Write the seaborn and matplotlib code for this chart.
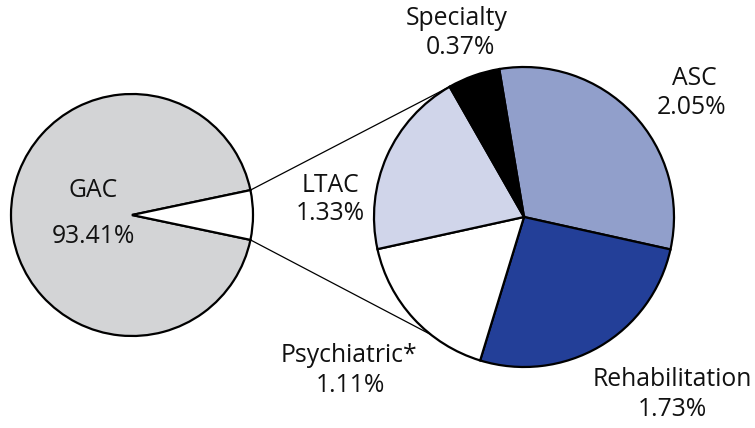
import matplotlib
matplotlib.use("Agg")
import matplotlib.pyplot as plt
import seaborn as sns
import numpy as np

sns.set_theme(style="white")
plt.rcParams['font.family'] = ['Open Sans', 'DejaVu Sans']

# Data
main_labels = ["GAC", "Other"]
main_values = [93.41, 6.59]
main_colors = ["#d3d4d6", "#ffffff"]

sub_labels = ["ASC", "Rehabilitation", "Psychiatric*", "LTAC", "Specialty"]
sub_values = [2.05, 1.73, 1.11, 1.33, 0.37]
sub_colors = ["#919fcb", "#233f98", "#ffffff", "#d0d5ea", "#000000"]

W, H = 755, 428
fig = plt.figure(figsize=(W / 100, H / 100), dpi=100)
ax = fig.add_axes([0, 0, 1, 1])

# Left pie
c1 = (132, H - 215)
r1 = 121
other_share = main_values[1] / sum(main_values) * 360
w1, _ = ax.pie(main_values, colors=main_colors, center=c1, radius=r1,
               startangle=other_share / 2, counterclock=True,
               wedgeprops=dict(edgecolor="black", linewidth=1.6), frame=True)

# Right pie
c2 = (524, H - 217)
r2 = 150
w2, _ = ax.pie(sub_values, colors=sub_colors, center=c2, radius=r2,
               startangle=99.5, counterclock=False,
               wedgeprops=dict(edgecolor="black", linewidth=1.6), frame=True)
ax.set_xlim(0, W)
ax.set_ylim(0, H)
ax.set_aspect("equal")
ax.axis("off")

# connecting lines from the small wedge edges to the sub pie
a_top = np.deg2rad(other_share / 2)
a_bot = np.deg2rad(-other_share / 2)
p_top = (c1[0] + r1 * np.cos(a_top), c1[1] + r1 * np.sin(a_top))
p_bot = (c1[0] + r1 * np.cos(a_bot), c1[1] + r1 * np.sin(a_bot))
t_ltac_spec = np.deg2rad(w2[4].theta2)
t_reh_psy = np.deg2rad(w2[1].theta1)
q_top = (c2[0] + r2 * np.cos(t_ltac_spec), c2[1] + r2 * np.sin(t_ltac_spec))
q_bot = (c2[0] + r2 * np.cos(t_reh_psy), c2[1] + r2 * np.sin(t_reh_psy))
ax.plot([p_top[0], q_top[0]], [p_top[1], q_top[1]], color="black", lw=0.9, zorder=0)
ax.plot([p_bot[0], q_bot[0]], [p_bot[1], q_bot[1]], color="black", lw=0.9, zorder=0)

fs = 17.8
def lab(x, y, s):
    ax.text(x, H - y, s, ha="center", va="center", fontsize=fs, color="#111111")

lab(93, 190, "GAC")
lab(93, 236, "93.41%")
lab(457, 18, "Specialty")
lab(460, 47, "0.37%")
lab(694, 78, "ASC")
lab(692, 107, "2.05%")
lab(331, 185, "LTAC")
lab(330, 213, "1.33%")
lab(349, 355, "Psychiatric*")
lab(350, 385, "1.11%")
lab(672, 380, "Rehabilitation")
lab(672, 410, "1.73%")

fig.savefig("out.png", dpi=100)
